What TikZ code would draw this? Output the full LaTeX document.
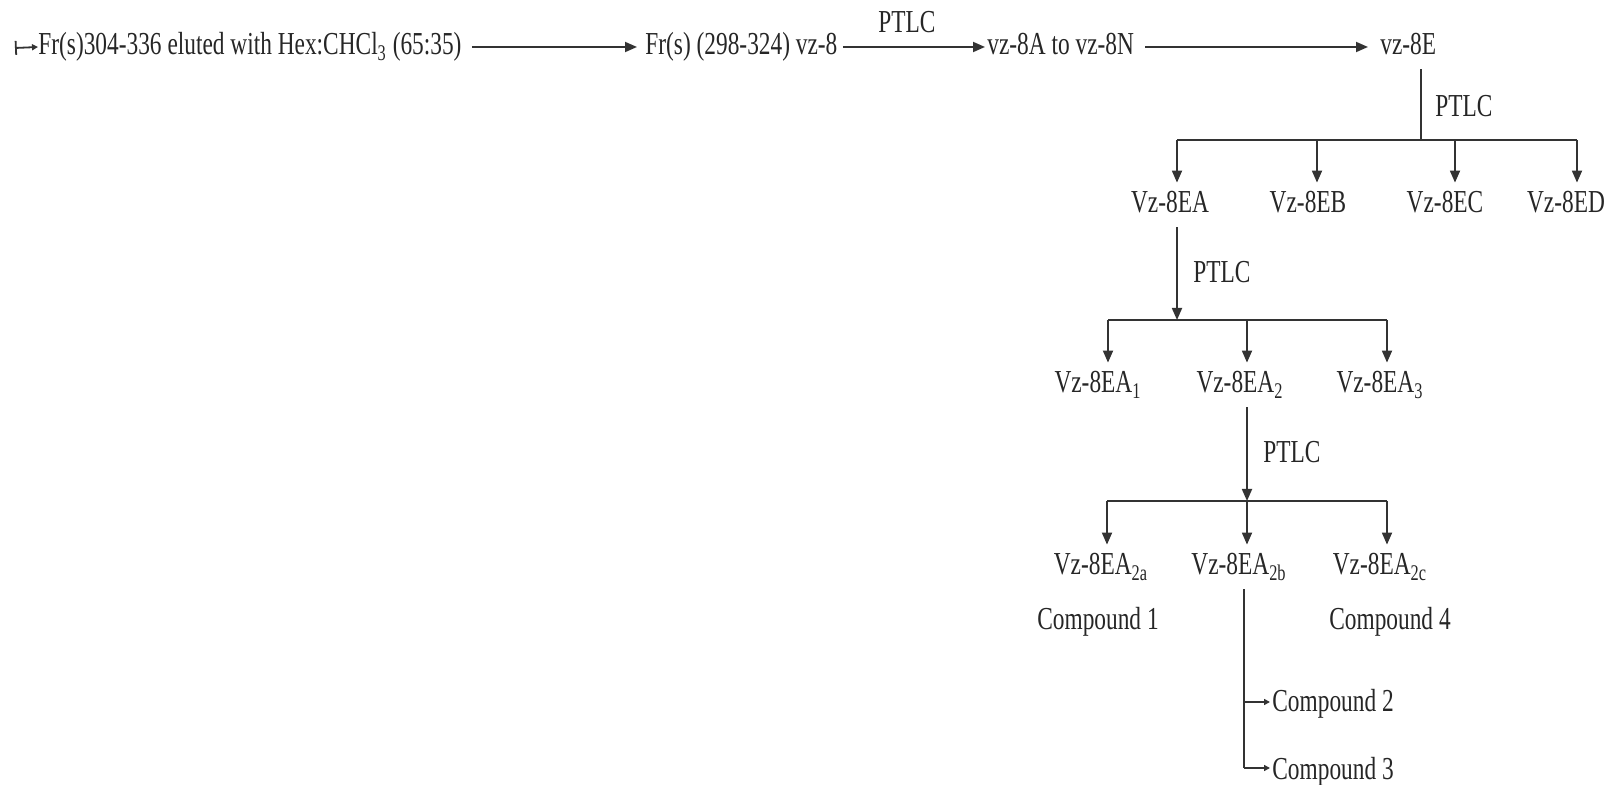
\documentclass[tikz,border=0pt]{standalone}
\usepackage{fontspec}
\setmainfont{Liberation Serif}[FakeStretch=0.73]
\usetikzlibrary{arrows.meta}
\begin{document}
\begin{tikzpicture}[x=0.5pt,y=-0.5pt,
  font=\fontsize{16pt}{19pt}\selectfont,
  txt/.style={inner xsep=0pt, inner ysep=4pt, text height=11pt, text depth=3pt, text=black!85},
  ln/.style={line width=0.9pt, draw=black!80},
  arr/.style={ln, -{Triangle[length=6pt,width=5pt]}},
  sarr/.style={ln, -{Triangle[length=3pt,width=3pt]}}]
\useasboundingbox (0,0) rectangle (1608,785);

% top row
\node[txt,anchor=base west] (t1) at (38,55) {Fr(s)304-336 eluted with Hex:CHCl\textsubscript{3} (65:35)};
\node[txt,anchor=base west] (t2) at (645,55) {Fr(s) (298-324) vz-8};
\node[txt,anchor=base west] (t3) at (987,55) {vz-8A to vz-8N};
\node[txt,anchor=base west] (t4) at (1380,55) {vz-8E};
\node[txt,anchor=base] (p1) at (907,33) {PTLC};
\coordinate (s0) at (15,48);
\draw[ln, {Bar[width=7pt]}-{Triangle[length=3pt,width=3pt]}] (s0) -- (t1.west);
\draw[arr, shorten <=5pt, shorten >=4pt] (t1.east) -- (t2.west);
\draw[arr, shorten <=2.5pt, shorten >=1pt] (t2.east) -- (t3.west);
\draw[arr, shorten <=5.5pt, shorten >=6pt] (t3.east) -- (t4.west);

% level 2
\coordinate (j1) at (1421,140);
\coordinate (b1a) at (1177,140);
\coordinate (b1b) at (1317,140);
\coordinate (b1c) at (1455,140);
\coordinate (b1d) at (1577,140);
\node[txt,anchor=base west] (p2) at (1435,117) {PTLC};
\node[txt,anchor=base] (ea) at (1170,213) {Vz-8EA};
\node[txt,anchor=base] (eb) at (1308,213) {Vz-8EB};
\node[txt,anchor=base] (ec) at (1445,213) {Vz-8EC};
\node[txt,anchor=base] (ed) at (1566,213) {Vz-8ED};
\draw[ln] (t4.south -| j1) -- (j1);
\draw[ln] (b1a) -- (b1d);
\draw[arr] (b1a) -- (b1a |- ea.north);
\draw[arr] (b1b) -- (b1b |- eb.north);
\draw[arr] (b1c) -- (b1c |- ec.north);
\draw[arr] (b1d) -- (b1d |- ed.north);

% level 3
\coordinate (j2) at (1177,320);
\coordinate (b2a) at (1108,320);
\coordinate (b2b) at (1247,320);
\coordinate (b2c) at (1387,320);
\node[txt,anchor=base west] (p3) at (1193,283) {PTLC};
\node[txt,anchor=base] (ea1) at (1098,393) {Vz-8EA\textsubscript{1}};
\node[txt,anchor=base] (ea2) at (1240,393) {Vz-8EA\textsubscript{2}};
\node[txt,anchor=base] (ea3) at (1380,393) {Vz-8EA\textsubscript{3}};
\draw[arr] (ea.south -| j2) -- (j2);
\draw[ln] (b2a) -- (b2c);
\draw[arr] (b2a) -- (b2a |- ea1.north);
\draw[arr] (b2b) -- (b2b |- ea2.north);
\draw[arr] (b2c) -- (b2c |- ea3.north);

% level 4
\coordinate (j3) at (1247,501);
\coordinate (b3a) at (1107,501);
\coordinate (b3c) at (1387,501);
\node[txt,anchor=base west] (p4) at (1263,463) {PTLC};
\node[txt,anchor=base] (ea2a) at (1101,575) {Vz-8EA\textsubscript{2a}};
\node[txt,anchor=base] (ea2b) at (1239,575) {Vz-8EA\textsubscript{2b}};
\node[txt,anchor=base] (ea2c) at (1380,575) {Vz-8EA\textsubscript{2c}};
\draw[arr] (ea2.south -| j3) -- (j3);
\draw[ln] (b3a) -- (b3c);
\draw[arr] (b3a) -- (b3a |- ea2a.north);
\draw[arr] (j3) -- (j3 |- ea2b.north);
\draw[arr] (b3c) -- (b3c |- ea2c.north);

% compounds
\node[txt,anchor=base] (c1) at (1098,630) {Compound 1};
\node[txt,anchor=base] (c4) at (1390,630) {Compound 4};
\node[txt,anchor=base west] (c2) at (1272,712) {Compound 2};
\node[txt,anchor=base west] (c3) at (1272,780) {Compound 3};
\coordinate (k2) at (1244,702);
\coordinate (k3) at (1244,768);
\draw[ln] (ea2b.south -| k3) -- (k3);
\draw[sarr, shorten >=1pt] (k2) -- (k2 -| c2.west);
\draw[sarr, shorten >=1pt] (k3) -- (k3 -| c3.west);
\end{tikzpicture}
\end{document}
